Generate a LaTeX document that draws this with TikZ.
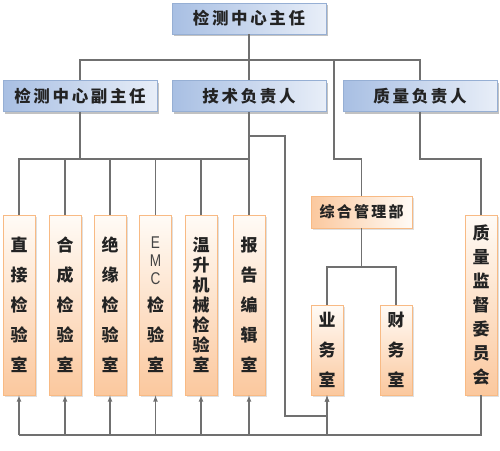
\documentclass[tikz,border=0pt]{standalone}
\usepackage{fontspec}
\setmainfont{Noto Sans CJK SC}
\newfontfamily\latinfont{Liberation Sans}
\usetikzlibrary{shadows}
\definecolor{linegray}{RGB}{112,112,112}
\definecolor{blueL}{RGB}{168,191,227}
\definecolor{blueR}{RGB}{232,238,248}
\definecolor{blueedge}{RGB}{150,175,212}
\definecolor{orangeB}{RGB}{251,200,158}
\definecolor{orangeT}{RGB}{255,251,246}
\definecolor{orangeedge}{RGB}{248,186,132}
\definecolor{inkgray}{RGB}{35,35,35}
\newcommand{\thinletter}[1]{{\latinfont\mdseries\color{inkgray!85}\scalebox{0.8}[1]{#1}}}
\begin{document}
\begin{tikzpicture}[x=1pt,y=-1pt,>=latex,
  line/.style={draw=linegray,line width=1.1pt},
  post/.style={draw=blueedge,line width=0.5pt,left color=blueL,right color=blueR,
    drop shadow={shadow xshift=2pt,shadow yshift=-2pt,fill=black!40,opacity=0.6},
    minimum width=154pt,minimum height=31pt,inner sep=0pt,text=inkgray,
    font=\fontsize{16.5}{16.5}\selectfont\bfseries\addfontfeature{LetterSpace=16}},
  room/.style={draw=orangeedge,line width=0.8pt,top color=orangeT,bottom color=orangeB,
    drop shadow={shadow xshift=1.5pt,shadow yshift=-1.5pt,fill=black!25,opacity=0.5},
    minimum width=32pt,inner sep=0pt,text=inkgray,align=center,
    font=\fontsize{17}{30}\selectfont\bfseries}]
  \useasboundingbox (0,0) rectangle (500,450);
  \node[post] (chief) at (249,18.5) {检测中心主任};
  \node[post] (deputy) at (80,96) {检测中心副主任};
  \node[post] (tech) at (249,96) {技术负责人};
  \node[post] (quality) at (420,96) {质量负责人};
  \node[room,minimum height=180pt] (lab1) at (19,305) {直\\接\\检\\验\\室};
  \node[room,minimum height=180pt] (lab2) at (65,305) {合\\成\\检\\验\\室};
  \node[room,minimum height=180pt] (lab3) at (110,305) {绝\\缘\\检\\验\\室};
  \node[room,minimum height=180pt,font=\fontsize{17}{18}\selectfont\bfseries] (lab4) at (155.5,305)
    {\thinletter{E}\\\thinletter{M}\\\thinletter{C}\\[9pt]检\\[12pt]验\\[12pt]室};
  \node[room,minimum height=180pt,font=\fontsize{17}{20}\selectfont\bfseries] (lab5) at (201,305) {温\\升\\机\\械\\检\\验\\室};
  \node[room,minimum height=180pt] (lab6) at (249,305) {报\\告\\编\\辑\\室};
  \node[room,left color=orangeB,right color=orangeT,minimum width=101pt,minimum height=32pt,
    font=\fontsize{15}{15}\selectfont\bfseries\addfontfeature{LetterSpace=15}] (admin) at (361.5,212) {综合管理部};
  \node[room,minimum height=90pt] (biz) at (327,350) {业\\务\\室};
  \node[room,minimum height=90pt] (fin) at (396,350) {财\\务\\室};
  \node[room,minimum height=180pt,font=\fontsize{17}{24}\selectfont\bfseries] (committee) at (481,305) {质\\量\\监\\督\\委\\员\\会};
  \coordinate (topbus) at (0,60);
  \coordinate (labbus) at (0,159);
  \coordinate (split) at (0,267);
  \coordinate (bottom) at (0,435);
  \coordinate (adminturn) at (334,60);
  \coordinate (techturn) at (285,136);
  \coordinate (techdown) at (285,416);
  \draw[line] (chief.south) -- (tech.north);
  \draw[line] (deputy.north) |- (quality.north |- topbus) -- (quality.north);
  \draw[line] (adminturn) |- (admin.north |- labbus) -- (admin.north);
  \draw[line] (deputy.south) -- (deputy.south |- labbus);
  \draw[line] (lab1.north) |- (lab6.north |- labbus);
  \foreach \i in {2,...,5} \draw[line] (lab\i.north) -- (lab\i.north |- labbus);
  \draw[line] (tech.south) -- (lab6.north);
  \draw[line] (quality.south) |- (committee.north |- labbus) -- (committee.north);
  \draw[line] (admin.south) -- (admin.south |- split);
  \draw[line] (biz.north) |- (fin.north |- split) -- (fin.north);
  \draw[line,->] (tech.south |- techturn) -- (techturn) -- (techdown) -| (biz.south);
  \draw[line] (committee.south) |- (lab1.south |- bottom);
  \foreach \i in {1,...,6} \draw[line,->] (lab\i.south |- bottom) -- (lab\i.south);
  \draw[line,->] (biz.south |- bottom) -- (biz.south);
\end{tikzpicture}
\end{document}
